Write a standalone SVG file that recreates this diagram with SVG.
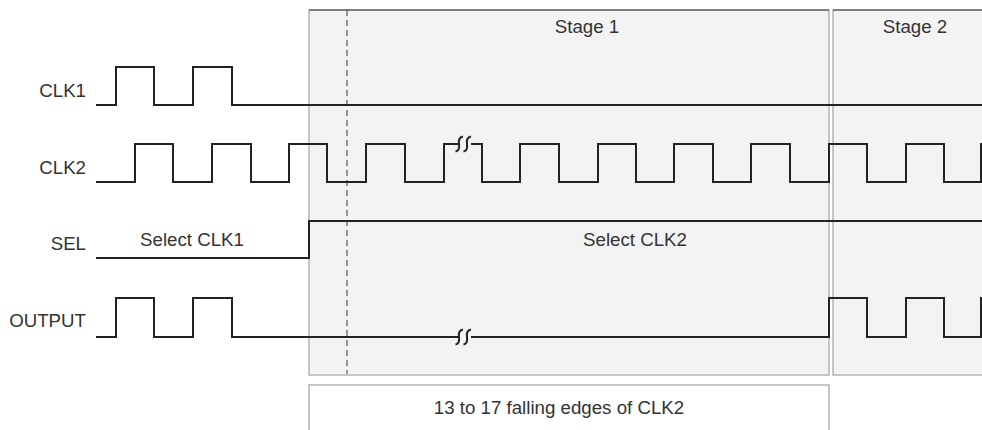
<svg xmlns="http://www.w3.org/2000/svg" width="982" height="430" viewBox="0 0 982 430">
<style>
.box{fill:#f3f3f3;stroke:#b4b4b4;stroke-width:1.5}
.top{stroke:#666;stroke-width:1.5}
.wave{fill:none;stroke:#222;stroke-width:2;stroke-linejoin:miter}
.sq{fill:none;stroke:#222;stroke-width:2}
.lbl{font-family:"Liberation Sans",Arial,sans-serif;font-size:18.7px;fill:#333}
.r{text-anchor:end}
.c{text-anchor:middle}
</style>
<rect width="982" height="430" fill="#ffffff"/>
<g id="stage1">
<rect class="box" x="309" y="10" width="520" height="365"/>
<line class="top" x1="309" y1="10" x2="829" y2="10"/>
<text class="lbl c" x="587" y="33">Stage 1</text>
</g>
<g id="stage2">
<rect class="box" x="833" y="10" width="160" height="365"/>
<line class="top" x1="833" y1="10" x2="982" y2="10"/>
<text class="lbl c" x="915" y="33">Stage 2</text>
</g>
<g id="count-box">
<rect x="309" y="385" width="520" height="60" fill="#ffffff" stroke="#b4b4b4" stroke-width="1.5"/>
<text class="lbl c" x="559" y="414">13 to 17 falling edges of CLK2</text>
</g>
<g id="labels">
<text class="lbl r" x="86" y="97">CLK1</text>
<text class="lbl r" x="86" y="174">CLK2</text>
<text class="lbl r" x="86" y="250">SEL</text>
<text class="lbl r" x="86" y="327">OUTPUT</text>
<text class="lbl c" x="192" y="246">Select CLK1</text>
<text class="lbl c" x="635" y="246">Select CLK2</text>
</g>
<g id="connectors">
<line x1="347" y1="10" x2="347" y2="374" stroke="#555" stroke-width="1.2" stroke-dasharray="6,4"/>
<path id="clk1" class="wave" d="M96,105 H116 V67 H154 V105 H193 V67 H232 V105 H982"/>
<path id="clk2" class="wave" d="M96,182 H135 V144 H173 V182 H212 V144 H251 V182 H289 V144 H327 V182 H366 V144 H405 V182 H444 V144 H458 M471,144 H482 V182 H520 V144 H559 V182 H598 V144 H636 V182 H674 V144 H713 V182 H751 V144 H790 V182 H829 V144 H867 V182 H906 V144 H944 V182 H981 V144 H983"/>
<path class="sq" d="M463,136.5 Q458,137.5 459,144 Q460,150.5 455.5,151.5 M471,136.5 Q466,137.5 467,144 Q468,150.5 463.5,151.5"/>
<path id="sel" class="wave" d="M96,258 H309 V221 H982"/>
<path id="output" class="wave" d="M96,337 H116 V298 H154 V337 H193 V298 H232 V337 H458 M471,337 H829 V298 H867 V337 H906 V298 H944 V337 H981 V298 H983"/>
<path class="sq" d="M463,329.5 Q458,330.5 459,337 Q460,343.5 455.5,344.5 M471,329.5 Q466,330.5 467,337 Q468,343.5 463.5,344.5"/>
</g>
</svg>
